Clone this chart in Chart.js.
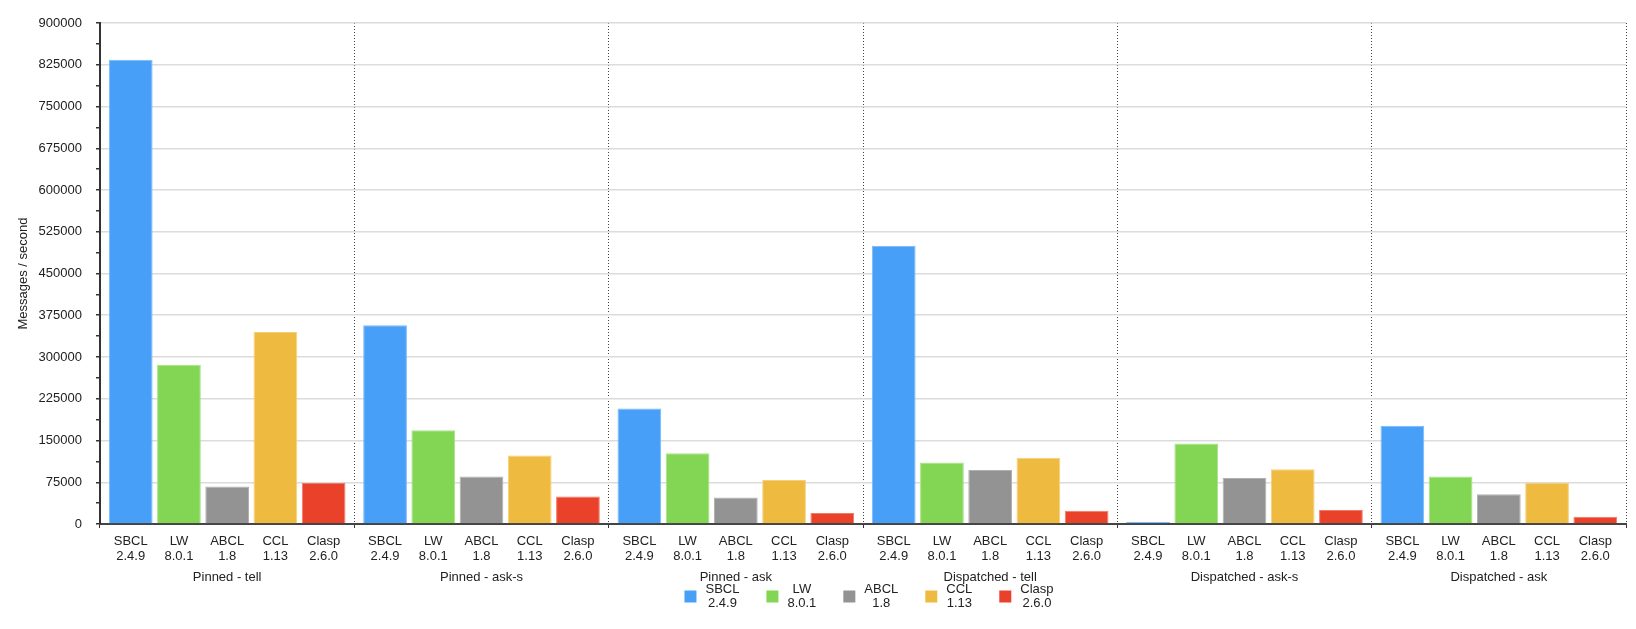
<!DOCTYPE html>
<html>
<head>
<meta charset="utf-8">
<script src="https://cdn.jsdelivr.net/npm/chart.js@4.4.1/dist/chart.umd.min.js"></script>
<style>
  html, body { margin: 0; padding: 0; background: #fff; }
  #wrap { width: 1636px; height: 629px; }
</style>
</head>
<body>
<div id="wrap"><canvas id="chart"></canvas></div>
<script>
const groups = ["Pinned - tell", "Pinned - ask-s", "Pinned - ask", "Dispatched - tell", "Dispatched - ask-s", "Dispatched - ask"];
const implNames = ["SBCL", "LW", "ABCL", "CCL", "Clasp"];
const implVersions = ["2.4.9", "8.0.1", "1.8", "1.13", "2.6.0"];
const colors = ["#479ff8", "#82d654", "#939393", "#eebb40", "#e9412a"];
const edgeColors = ["#7ab9fa", "#a6e384", "#b0b0b0", "#f4d07a", "#f07a66"];

// messages / second per benchmark
const sbcl = [834000, 357000, 207600, 499800, 4200, 176400];
const lw = [286200, 168600, 127200, 110400, 144600, 85200];
const abcl = [67200, 85200, 47400, 97200, 82800, 53400];
const ccl = [345000, 123000, 79200, 118800, 98400, 73800];
const clasp = [73800, 49200, 19800, 24000, 25200, 13200];

const yMax = 900000;
const yMajorStep = 75000;
const yMinorStep = 37500;

const FONT = "'Liberation Sans', Arial, Helvetica, sans-serif";
const TEXT = "#222";

// per-bar implementation labels and the two-line legend
const barLabels = {
  id: "barLabels",
  afterDraw(chart) {
    const { ctx, chartArea } = chart;
    ctx.save();
    ctx.font = `13px ${FONT}`;
    ctx.fillStyle = TEXT;
    ctx.textAlign = "center";
    ctx.textBaseline = "middle";
    chart.data.datasets.forEach((ds, i) => {
      chart.getDatasetMeta(i).data.forEach((bar) => {
        ctx.fillText(implNames[i], bar.x, chartArea.bottom + 17);
        ctx.fillText(implVersions[i], bar.x, chartArea.bottom + 32);
      });
    });

    const box = 12;
    const gapText = 9;
    const gapItem = 27;
    const widths = implNames.map((n, i) =>
      Math.max(ctx.measureText(n).width, ctx.measureText(implVersions[i]).width));
    const total = widths.reduce((s, w) => s + box + gapText + w, 0) + gapItem * (widths.length - 1);
    let x = (chartArea.left + chartArea.right) / 2 + 6 - total / 2;
    const cy = chartArea.bottom + 72.5;
    chart.data.datasets.forEach((ds, i) => {
      ctx.fillStyle = ds.backgroundColor;
      ctx.fillRect(x, cy - box / 2, box, box);
      ctx.fillStyle = TEXT;
      const tx = x + box + gapText + widths[i] / 2;
      ctx.fillText(implNames[i], tx, cy - 7);
      ctx.fillText(implVersions[i], tx, cy + 7);
      x += box + gapText + widths[i] + gapItem;
    });
    ctx.restore();
  },
};

const series = [sbcl, lw, abcl, ccl, clasp];

new Chart(document.getElementById("chart"), {
  type: "bar",
  data: {
    labels: groups,
    datasets: series.map((values, i) => ({
      label: `${implNames[i]} ${implVersions[i]}`,
      data: values,
      backgroundColor: colors[i],
      borderColor: edgeColors[i],
      borderWidth: { top: 1, left: 1, right: 1, bottom: 0 },
      categoryPercentage: 0.948,
      barPercentage: 0.907,
    })),
  },
  options: {
    responsive: true,
    maintainAspectRatio: false,
    animation: false,
    layout: { padding: { left: 12, right: 10, top: 23, bottom: 0 } },
    scales: {
      x: {
        grid: {
          offset: true,
          color: (c) => (c.index === 0 ? "rgba(0,0,0,0)" : "#444"),
          tickColor: "#333",
          tickLength: 4,
          lineWidth: 1,
        },
        border: { color: "#444", width: 2, dash: [1, 2] },
        ticks: { padding: 42, color: TEXT, font: { family: FONT, size: 13 } },
        afterFit: (scale) => { scale.height = 105; },
      },
      y: {
        min: 0,
        max: yMax,
        ticks: {
          stepSize: yMinorStep,
          autoSkip: false,
          padding: 14,
          color: TEXT,
          font: { family: FONT, size: 13 },
          callback: (v) => (v % yMajorStep === 0 ? String(v) : ""),
        },
        grid: {
          color: (c) => (c.tick && c.tick.value % yMajorStep === 0 ? "#dcdcdc" : "rgba(0,0,0,0)"),
          tickColor: "#333",
          tickLength: 4,
          lineWidth: 1.5,
        },
        border: { color: "#333", width: 2 },
        title: {
          display: true,
          text: "Messages / second",
          color: TEXT,
          padding: { top: 4, bottom: 0 },
          font: { family: FONT, size: 13 },
        },
        afterFit: (scale) => { scale.width = 88; },
      },
    },
    plugins: {
      legend: { display: false },
      tooltip: { enabled: false },
    },
  },
  plugins: [barLabels],
});
</script>
</body>
</html>
